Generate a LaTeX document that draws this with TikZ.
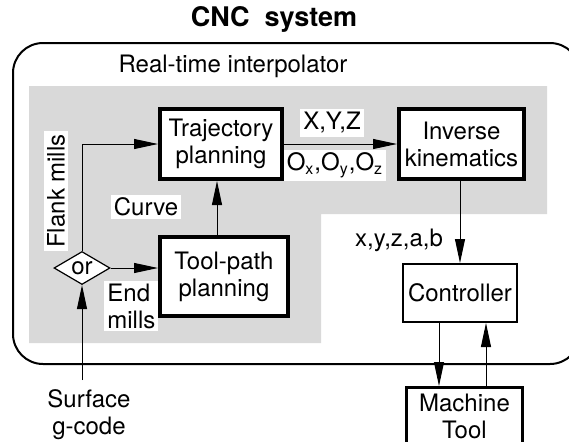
\documentclass[tikz,border=0pt]{standalone}
\usepackage{fontspec}
\setmainfont{TeX Gyre Heros}
\usetikzlibrary{arrows.meta,shapes.geometric}
\tikzset{
	thickbox/.style={draw,line width=2pt,fill=white,align=center,inner sep=0pt},
	thinbox/.style={draw,line width=1pt,fill=white,align=center,inner sep=0pt},
	lbl/.style={fill=white,inner sep=1.5pt,align=center},
	flow/.style={line width=0.5pt,-{Triangle[length=12pt,width=5pt]}},
	dotarea/.style={fill=black!15},
}
\begin{document}
\begin{tikzpicture}[x=0.5pt,y=-0.5pt,font=\fontsize{12}{13.5}\selectfont]
				\useasboundingbox (0,0) rectangle (569,441);
				\clip (0,0) rectangle (569,441);
				\coordinate (tpx) at (217,0);
				\coordinate (dnx) at (439,0);
				\coordinate (upx) at (486,0);
				\coordinate (gcode) at (82,380);

				\draw[line width=1pt,rounded corners=15pt] (13,43) rectangle (580,364);
				\fill[dotarea] (29,86) -- (547,86) -- (547,214) -- (321,214) -- (321,343) -- (29,343) -- cycle;

				\node[font=\fontsize{13.5}{15}\selectfont\bfseries] (title) at (274,19) {CNC\ \ system};
				\node (rti) at (233,66) {Real-time interpolator};

				\node[thickbox,minimum width=61pt,minimum height=35pt] (traj) at (221,144) {Trajectory\\planning};
				\node[thickbox,minimum width=62.5pt,minimum height=35pt] (inv) at (461.5,144) {Inverse\\kinematics};
				\node[thickbox,minimum width=64pt,minimum height=39.5pt] (tool) at (224,276.5) {Tool-path\\planning};
				\node[thinbox,minimum width=57pt,minimum height=29pt] (ctrl) at (460,293) {Controller};
				\node[draw,line width=1.5pt,fill=white,align=center,inner sep=0pt,minimum width=58pt,minimum height=28.5pt] (mach) at (464.5,416) {Machine\\Tool};
				\node[draw,diamond,line width=0.6pt,fill=white,inner sep=0pt,aspect=1.7,minimum width=28pt,minimum height=16.5pt] (or) at (82,268) {or};

				\node[lbl,rotate=90] (flank) at (56,191) {Flank mills};
				\node[lbl] (curve) at (146,207) {Curve};
				\node[lbl,align=left,anchor=west] (endm) at (104,306) {End\\mills};
				\node[lbl] (xyz) at (332,123) {X,Y,Z};
				\node[lbl] (oxyz) at (335,165) {O\textsubscript{x},O\textsubscript{y},O\textsubscript{z}};
				\node[anchor=east] (joint) at (450,240) {x,y,z,a,b};
				\node[align=center] (surf) at (89,415) {Surface\\g-code};

				\draw[flow] (traj.east) -- (traj.east -| inv.west);
				\draw[flow] (tool.north -| tpx) -- (traj.south -| tpx);
				\draw[flow] (or.north) |- (traj.west);
				\draw[flow] (or.east) -- (or.east -| tool.west);
				\draw[flow] (gcode) -- (or.south);
				\draw[flow] (inv.south -| ctrl.north) -- (ctrl.north);
				\draw[flow] (ctrl.south -| dnx) -- (mach.north -| dnx);
				\draw[flow] (mach.north -| upx) -- (ctrl.south -| upx);
\end{tikzpicture}
\end{document}
